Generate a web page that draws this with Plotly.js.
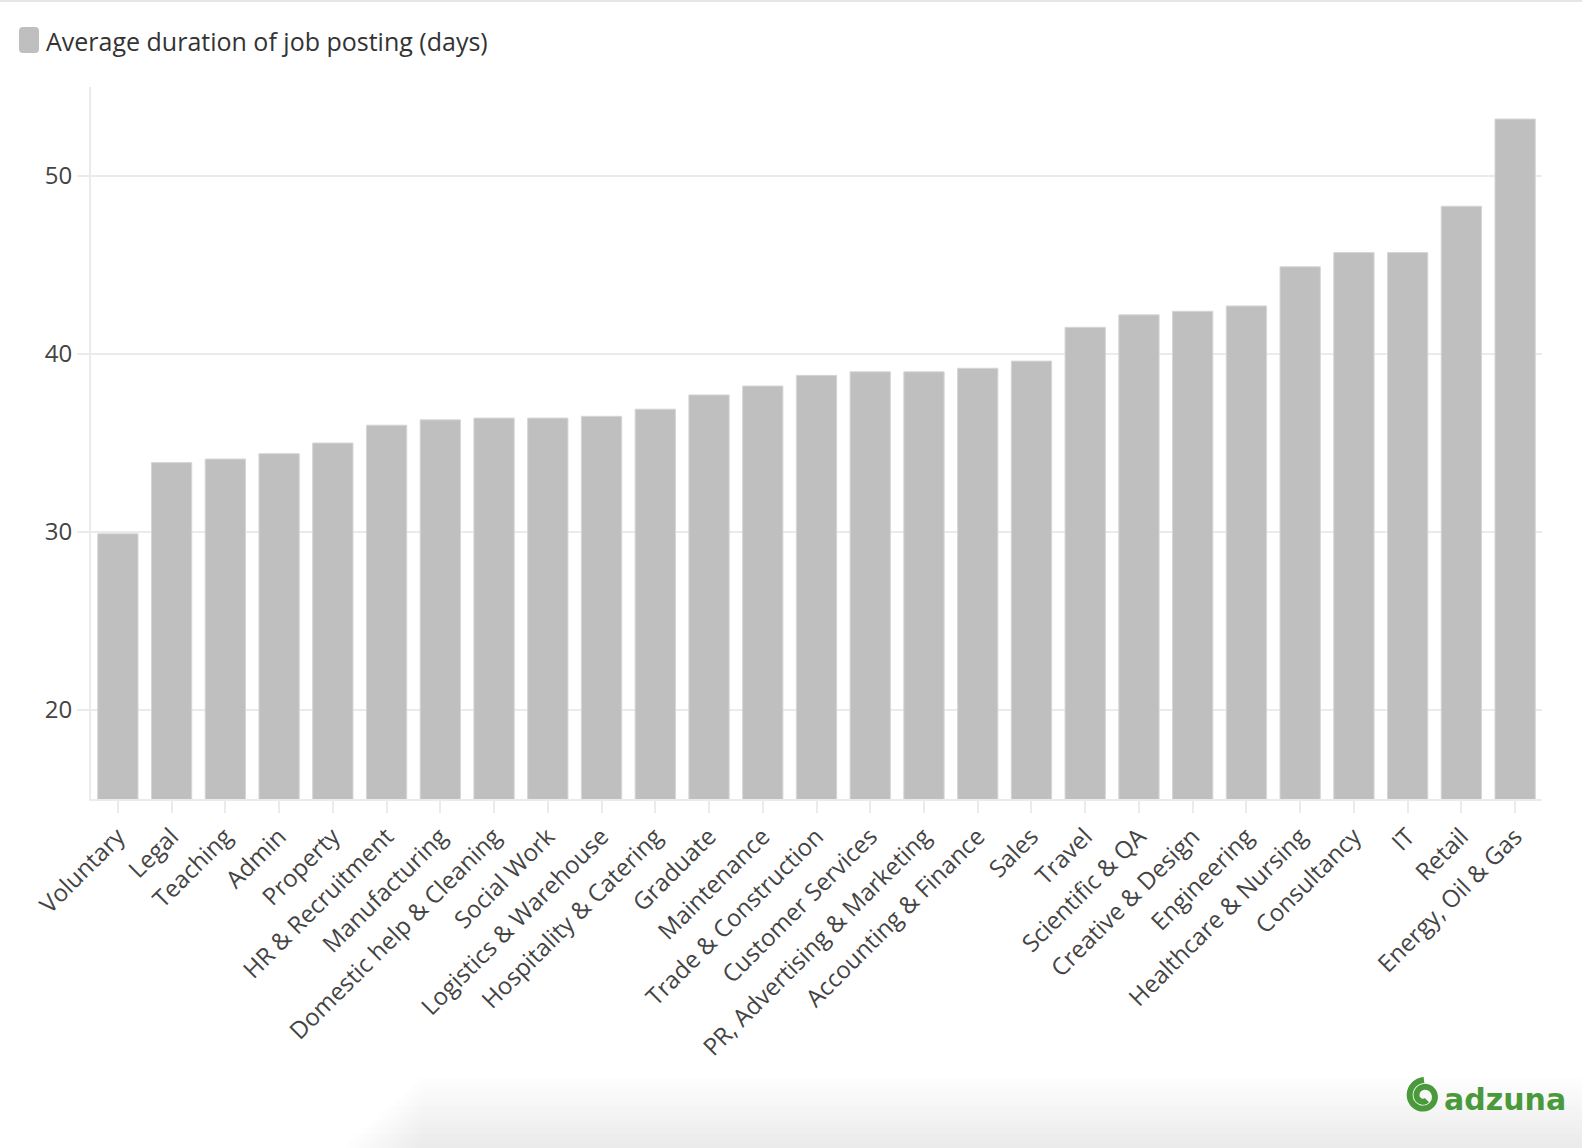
<!DOCTYPE html>
<html>
<head>
<meta charset="utf-8">
<script src="https://cdn.plot.ly/plotly-3.0.1.min.js"></script>
<style>
  html, body { margin: 0; padding: 0; background: #fff; }
  #plot { width: 1582px; height: 1148px; }
</style>
</head>
<body>
<div id="plot"></div>
<script>
// Categories, sorted by duration
let categories = [
  "Voluntary", "Legal", "Teaching", "Admin", "Property", "HR & Recruitment",
  "Manufacturing", "Domestic help & Cleaning", "Social Work", "Logistics & Warehouse",
  "Hospitality & Catering", "Graduate", "Maintenance", "Trade & Construction",
  "Customer Services", "PR, Advertising & Marketing", "Accounting & Finance", "Sales",
  "Travel", "Scientific & QA", "Creative & Design", "Engineering", "Healthcare & Nursing",
  "Consultancy", "IT", "Retail", "Energy, Oil & Gas"
]

// Average duration of job posting (days)
let durations = [
  29.9, 33.9, 34.1, 34.4, 35.0, 36.0,
  36.3, 36.4, 36.4, 36.5,
  36.9, 37.7, 38.2, 38.8,
  39.0, 39.0, 39.2, 39.6,
  41.5, 42.2, 42.4, 42.7, 44.9,
  45.7, 45.7, 48.3, 53.2
]

let seriesName = "Average duration of job posting (days)"
let yTicks = [20, 30, 40, 50]

let fontFamily = "Open Sans, Noto Sans, sans-serif"
let textColor = "#444444"
let lineColor = "#ebebeb"
let barColor = "#bfbfbf"
let green = "#4a9a3c"

// plot area in pixels (matches the margins below)
let L = 91, T = 87, W = 1451, H = 712
function px(x) { return (x - L) / W }
function py(y) { return (T + H - y) / H }

// rounded square used as legend key
function roundRect(x0, y0, x1, y1, r) {
  return "M" + px(x0 + r) + "," + py(y0) +
    " L" + px(x1 - r) + "," + py(y0) +
    " Q" + px(x1) + "," + py(y0) + " " + px(x1) + "," + py(y0 + r) +
    " L" + px(x1) + "," + py(y1 - r) +
    " Q" + px(x1) + "," + py(y1) + " " + px(x1 - r) + "," + py(y1) +
    " L" + px(x0 + r) + "," + py(y1) +
    " Q" + px(x0) + "," + py(y1) + " " + px(x0) + "," + py(y1 - r) +
    " L" + px(x0) + "," + py(y0 + r) +
    " Q" + px(x0) + "," + py(y0) + " " + px(x0 + r) + "," + py(y0) + " Z"
}

// spiral for the logo mark
function spiralPath(cx, cy, r0, r1, turns) {
  let steps = 80
  let d = ""
  for (let i = 0; i <= steps; i++) {
    let t = i / steps
    let a = -Math.PI / 2 - t * turns * 2 * Math.PI
    let r = r0 + (r1 - r0) * t
    let x = cx + r * Math.cos(a)
    let y = cy + r * Math.sin(a)
    d += (i === 0 ? "M" : " L") + px(x) + "," + py(y)
  }
  return d
}

let trace1 = {
  x: categories,
  y: durations,
  name: seriesName,
  type: "bar",
  marker: {
    color: barColor,
    line: { color: "#d6d6d6", width: 1 }
  },
  hoverinfo: "x+y",
  showlegend: false
}

let shapes = []
// faint bottom shading, built up in thin soft steps
for (let i = 0; i < 10; i++) {
  shapes.push({
    type: "rect", xref: "paper", yref: "paper", layer: "below",
    x0: px(420 - i * 8), x1: px(1582), y0: py(1148), y1: py(1078 + i * 7),
    fillcolor: "rgba(0,0,0,0.006)", line: { width: 0 }
  })
}
shapes.push(
  // thin frame line at the top of the page
  { type: "line", xref: "paper", yref: "paper",
    x0: px(0), x1: px(1582), y0: py(1), y1: py(1),
    line: { color: "#e6e6e6", width: 2 } },
  // legend key
  { type: "path", xref: "paper", yref: "paper",
    path: roundRect(19, 27, 39, 53, 4),
    fillcolor: barColor, line: { width: 0 } },
  // adzuna mark
  { type: "path", xref: "paper", yref: "paper",
    path: spiralPath(1424, 1096, 16, 5, 1.6),
    line: { color: green, width: 6 } }
)

let layout = {
  width: 1582,
  height: 1148,
  paper_bgcolor: "#ffffff",
  plot_bgcolor: "#ffffff",
  font: { family: fontFamily, color: textColor, size: 22 },
  margin: { l: L, r: 1582 - L - W, t: T, b: 1148 - T - H, pad: 0 },
  bargap: 0.25,
  showlegend: false,
  xaxis: {
    type: "category",
    tickangle: -45,
    tickfont: { family: fontFamily, size: 24, color: textColor },
    showline: true,
    linecolor: lineColor,
    linewidth: 2,
    ticks: "outside",
    ticklen: 12,
    tickwidth: 2,
    tickcolor: lineColor,
    showgrid: false,
    automargin: false
  },
  yaxis: {
    range: [15, 55],
    tickvals: yTicks,
    ticktext: yTicks.map(String),
    tickfont: { family: fontFamily, size: 24, color: textColor },
    showline: true,
    linecolor: lineColor,
    linewidth: 2,
    ticks: "outside",
    ticklen: 12,
    tickwidth: 2,
    tickcolor: lineColor,
    showgrid: true,
    gridcolor: lineColor,
    gridwidth: 2,
    zeroline: false,
    automargin: false
  },
  shapes: shapes,
  annotations: [
    {
      text: seriesName,
      xref: "paper", yref: "paper",
      x: px(44), xanchor: "left",
      y: py(41), yanchor: "middle",
      showarrow: false,
      font: { family: fontFamily, size: 25, color: "#333333" }
    },
    {
      text: "<b>adzuna</b>",
      xref: "paper", yref: "paper",
      x: px(1568), xanchor: "right",
      y: py(1099), yanchor: "middle",
      showarrow: false,
      font: { family: "DejaVu Sans, sans-serif", size: 30, color: green }
    }
  ]
}

Plotly.newPlot("plot", [trace1], layout, { displayModeBar: false, responsive: false })
</script>
</body>
</html>
